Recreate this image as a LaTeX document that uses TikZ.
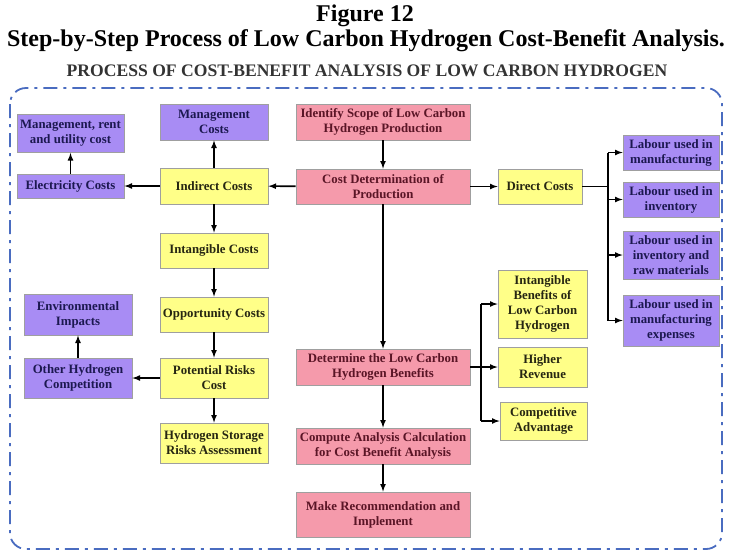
\documentclass[tikz,border=0pt]{standalone}
\usepackage{fontspec}
\setmainfont{Liberation Serif}
\usetikzlibrary{positioning,calc,arrows}
\definecolor{pinkfill}{HTML}{F59AAB}
\definecolor{purplefill}{HTML}{A88CF4}
\definecolor{yellowfill}{HTML}{FFFF88}
\definecolor{pinktext}{HTML}{5A1526}
\definecolor{purpletext}{HTML}{1C1850}
\definecolor{yellowtext}{HTML}{262612}
\definecolor{frameblue}{HTML}{4A6CC0}
\tikzset{box/.style={draw=gray!75,line width=0.8pt,align=center,inner sep=1pt,font=\fontsize{12.8}{15}\selectfont\bfseries}  }
\tikzset{pbox/.style={box,fill=pinkfill,text=pinktext}  }
\tikzset{vbox/.style={box,fill=purplefill,text=purpletext}  }
\tikzset{ybox/.style={box,fill=yellowfill,text=yellowtext}  }
\tikzset{sz/.style 2 args={minimum width=#1,minimum height=#2}  }
\tikzset{>={latex}}

\begin{document}
\begin{tikzpicture}[x=1pt,y=-1pt,line width=1.6pt]
		\useasboundingbox (0,0) rectangle (730,552);
		\node[font=\fontsize{24}{26}\selectfont\bfseries] (fig) at (365,16) {Figure 12};
		\node[font=\fontsize{24}{26}\selectfont\bfseries] (title) at (366,41) {Step-by-Step Process of Low Carbon Hydrogen Cost-Benefit Analysis.};
		\node[font=\fontsize{17.6}{19}\selectfont\bfseries,text=black!80] (sub) at (367,71) {PROCESS OF COST-BENEFIT ANALYSIS OF LOW CARBON HYDROGEN};
		\draw[frameblue,line width=1.8pt,rounded corners=16,dash pattern=on 14pt off 6pt on 3pt off 6pt] (10,88) rectangle (722,549);

		% main column
		\node[pbox,sz={174}{36}] (scope) at (383,122) {Identify Scope of Low Carbon\\Hydrogen Production};
		\node[pbox,sz={174}{35}] (costdet) at (383,186.5) {Cost Determination of\\Production};
		\node[pbox,sz={174}{36}] (benef) at (383,367) {Determine the Low Carbon\\Hydrogen Benefits};
		\node[pbox,sz={174}{36}] (compute) at (383,446) {Compute Analysis Calculation\\for Cost Benefit Analysis};
		\node[pbox,sz={174}{45}] (recomm) at (383,514.5) {Make Recommendation and\\Implement};

		% indirect side
		\node[ybox,sz={108}{36}] (indir) at (214,186) {Indirect Costs};
		\node[vbox,sz={108}{36}] (mgmt) at (214,122) {Management\\Costs};
		\node[vbox,sz={107}{24}] (elec) at (70.5,186) {Electricity Costs};
		\node[vbox,sz={107}{38}] (rent) at (70.5,133.5) {Management, rent\\and utility cost};
		\node[ybox,sz={108}{35}] (intang) at (214,250.5) {Intangible Costs};
		\node[ybox,sz={108}{35}] (oppo) at (214,314.5) {Opportunity Costs};
		\node[ybox,sz={108}{40}] (risks) at (214,378) {Potential Risks\\Cost};
		\node[ybox,sz={108}{40}] (storage) at (214,443) {Hydrogen Storage\\Risks Assessment};
		\node[vbox,sz={108}{40}] (other) at (78,378) {Other Hydrogen\\Competition};
		\node[vbox,sz={108}{41}] (env) at (78,314.5) {Environmental\\Impacts};

		% direct side
		\node[ybox,sz={84}{35}] (direct) at (540,186.5) {Direct Costs};
		\node[vbox,sz={96}{35}] (lab1) at (671,152.5) {Labour used in\\manufacturing};
		\node[vbox,sz={96}{35}] (lab2) at (671,199.5) {Labour used in\\inventory};
		\node[vbox,sz={96}{48}] (lab3) at (671,255) {Labour used in\\inventory and\\raw materials};
		\node[vbox,sz={96}{51}] (lab4) at (671,320.5) {Labour used in\\manufacturing\\expenses};

		% benefits
		\node[ybox,sz={89}{68}] (intben) at (542.5,304) {Intangible\\Benefits of\\Low Carbon\\Hydrogen};
		\node[ybox,sz={89}{40}] (revenue) at (542.5,367) {Higher\\Revenue};
		\node[ybox,sz={87}{38}] (compet) at (543.5,421) {Competitive\\Advantage};

		\coordinate (jd) at (608,0);
		\coordinate (jb) at (481,0);

		\draw[->] (scope) -- (costdet);
		\draw[->] (costdet) -- (benef);
		\draw[->] (benef) -- (compute);
		\draw[->] (compute) -- (recomm);
		\draw[->] (costdet) -- (indir);
		\draw[->] (costdet) -- (direct);

		\draw[->] (indir) -- (mgmt);
		\draw[->] (indir) -- (elec);
		\draw[->] (elec) -- (rent);
		\draw[->] (indir) -- (intang);
		\draw[->] (intang) -- (oppo);
		\draw[->] (oppo) -- (risks);
		\draw[->] (risks) -- (storage);
		\draw[->] (risks) -- (other);
		\draw[->] (other) -- (env);

		\draw (direct.east) -- (jd |- direct);
		\draw (jd |- lab1) -- (jd |- lab4);
		\foreach \n in {lab1,lab2,lab3,lab4}
			\draw[->] (jd |- \n) -- (\n);

		\draw (benef.east) -- (jb |- benef);
		\draw (jb |- intben) -- (jb |- compet);
		\foreach \n in {intben,revenue,compet}
			\draw[->] (jb |- \n) -- (\n);
\end{tikzpicture}
\end{document}
